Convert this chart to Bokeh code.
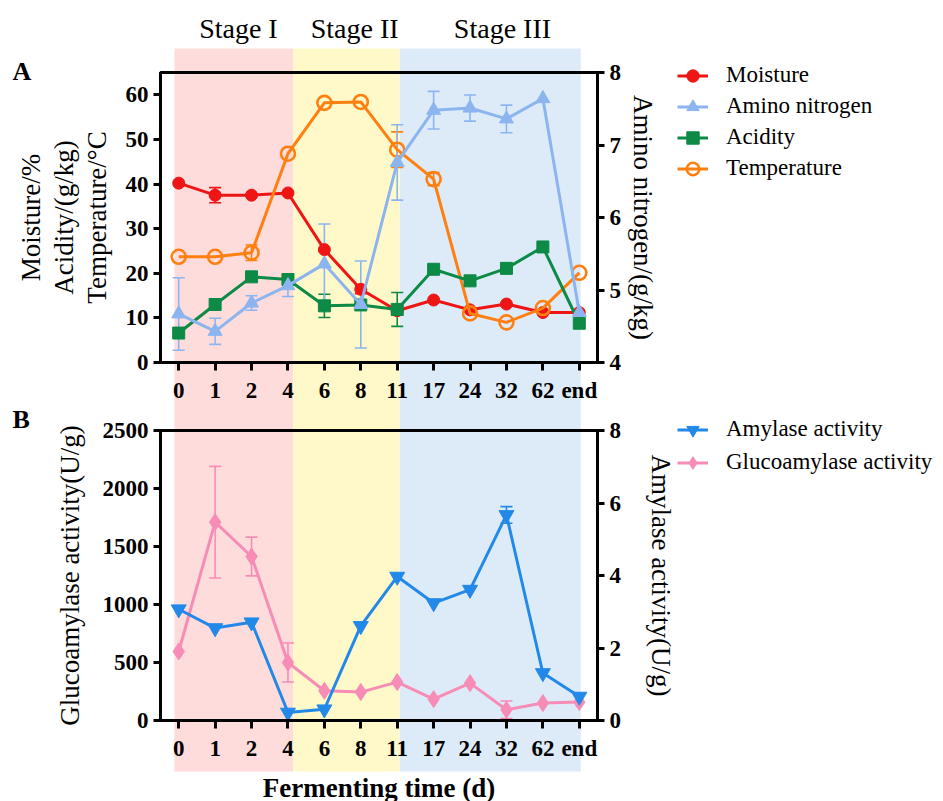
from bokeh.plotting import figure
from bokeh.models import (FactorRange, Range1d, LinearAxis, FixedTicker, Legend, LegendItem,
                          Whisker, ColumnDataSource, TeeHead, GridBox)
from bokeh.layouts import column
from bokeh.core.properties import value
from bokeh.embed import file_html
from bokeh.resources import INLINE

# ---------------- data ----------------
days = ["0", "1", "2", "4", "6", "8", "11", "17", "24", "32", "62", "end"]

moisture = [40.2, 37.5, 37.5, 38.0, 25.3, 16.4, 11.6, 14.0, 11.8, 13.1, 11.2, 11.2]
moisture_err = [0, 1.7, 0, 0, 0, 1.0, 1.0, 0, 0, 0, 0, 0]
temperature = [23.7, 23.7, 24.6, 46.8, 58.2, 58.4, 47.7, 41.1, 11.0, 9.0, 12.2, 20.1]
temperature_err = [0, 0, 1.75, 0, 0, 0, 4.0, 1.5, 0, 0, 0, 0]
acidity = [6.6, 13.0, 19.2, 18.6, 12.7, 12.9, 11.9, 20.9, 18.3, 21.1, 25.9, 8.8]
acidity_err = [0, 0, 0, 0.6, 2.6, 0, 3.8, 0, 0, 0, 0, 0]
amino = [4.67, 4.43, 4.82, 5.06, 5.36, 4.80, 6.76, 7.48, 7.51, 7.36, 7.64, 4.69]
amino_err = [0.50, 0.18, 0.10, 0.15, 0.55, 0.60, 0.52, 0.26, 0.18, 0.19, 0, 0]

glucoamylase = [595, 1710, 1414, 500, 256, 245, 331, 184, 322, 92, 150, 159]
glucoamylase_err = [0, 481, 167, 168, 0, 0, 0, 0, 0, 76, 0, 0]
amylase = [3.07, 2.55, 2.71, 0.22, 0.31, 2.61, 3.97, 3.24, 3.61, 5.67, 1.31, 0.66]
amylase_err = [0, 0, 0, 0, 0, 0, 0, 0, 0, 0.23, 0, 0]

stage_names = ["Stage I", "Stage II", "Stage III"]
stage_edges = [-0.12, 3.14, 6.07, 11.04]      # in category-index units (0 = first day)
stage_label_x = [1.64, 4.83, 8.89]             # in category-index units
stage_colors = ["#FFDCDC", "#FFF9C9", "#DDEBF9"]

panel_letters = ["A", "B"]

left_ticks_A = [0, 10, 20, 30, 40, 50, 60]
right_ticks_A = [4, 5, 6, 7, 8]
left_ticks_B = [0, 500, 1000, 1500, 2000, 2500]
right_ticks_B = [0, 2, 4, 6, 8]

RED = "#EE1515"
LBLUE = "#8CB5F0"
GREEN = "#0C8A46"
ORANGE = "#FF7F10"
BLUE = "#2389E8"
PINK = "#F78DB6"

SERIF = "Liberation Serif"
NAN = float("nan")

# ---------------- geometry (pixels) ----------------
W, H = 940, 801
FRAME_L, FRAME_W, FRAME_H = 160, 437, 290
UNIT = FRAME_W / len(days)                      # px per category
X0 = -0.5 - FRAME_L / UNIT                      # index at canvas left

# ---------------- helpers ----------------
def style_y_axis(ax, ticks, label, standoff, line_height=1.2):
    ax.ticker = FixedTicker(ticks=ticks)
    ax.axis_line_width = 3
    ax.axis_line_color = "black"
    ax.major_tick_line_width = 3
    ax.major_tick_out = 7
    ax.major_tick_in = 0
    ax.minor_tick_line_color = None
    ax.major_label_text_font = SERIF
    ax.major_label_text_font_style = "bold"
    ax.major_label_text_font_size = "23px"
    ax.major_label_text_color = "black"
    ax.major_label_standoff = 5
    ax.axis_label = label
    ax.axis_label_text_font = SERIF
    ax.axis_label_text_font_style = "normal"
    ax.axis_label_text_font_size = "27px"
    ax.axis_label_text_color = "black"
    ax.axis_label_standoff = standoff
    ax.axis_label_text_line_height = line_height


def style_x_axis(ax):
    ax.axis_line_width = 3
    ax.axis_line_color = "black"
    ax.major_tick_line_width = 3
    ax.major_tick_out = 8
    ax.major_tick_in = 0
    ax.minor_tick_line_color = None
    ax.major_label_text_font = SERIF
    ax.major_label_text_font_style = "bold"
    ax.major_label_text_font_size = "23px"
    ax.major_label_text_color = "black"
    ax.major_label_standoff = 7


def add_err(p, vals, errs, color, range_name="default"):
    xs = [d for d, e in zip(days, errs) if e > 0]
    up = [v + e for v, e in zip(vals, errs) if e > 0]
    lo = [v - e for v, e in zip(vals, errs) if e > 0]
    src = ColumnDataSource(dict(x=xs, upper=up, lower=lo))
    w = Whisker(source=src, base="x", upper="upper", lower="lower", dimension="height",
                line_color=color, line_width=1.6, y_range_name=range_name,
                upper_head=TeeHead(size=12, line_color=color, line_width=1.6),
                lower_head=TeeHead(size=12, line_color=color, line_width=1.6))
    w.level = "underlay"
    p.add_layout(w)


def base_fig(yr, top, bottom):
    p = figure(x_range=FactorRange(factors=days), y_range=yr,
               frame_width=FRAME_W, frame_height=FRAME_H,
               min_border_left=FRAME_L, min_border_right=20,
               min_border_top=top, min_border_bottom=bottom,
               output_backend="svg", toolbar_location=None)
    p.background_fill_alpha = 0
    p.border_fill_alpha = 0
    p.xgrid.visible = False
    p.ygrid.visible = False
    p.outline_line_color = "black"
    p.outline_line_width = 3
    p.outline_line_alpha = 1
    return p

# ---------------- background (stage bands, labels, legends) ----------------
bg = figure(width=W, height=H, x_range=Range1d(X0, X0 + W / UNIT), y_range=Range1d(H, 0),
            min_border=0, output_backend="svg", toolbar_location=None)
bg.axis.visible = False
bg.grid.visible = False
bg.outline_line_color = None
bg.title.visible = False

bg.quad(left=stage_edges[:-1], right=stage_edges[1:],
        top=48, bottom=771, fill_color=stage_colors, line_color=None)
bg.text(x=stage_label_x, y=[28] * 3, text=stage_names, text_font=value(SERIF),
        text_font_size="28px", text_align="center", text_baseline="alphabetic",
        text_color="black")
bg.text(x=[X0 + 12 / UNIT] * 2, y=[71, 419], text=panel_letters, text_font=value(SERIF),
        text_font_size="26px", text_font_style="bold", text_align="left",
        text_baseline="alphabetic", text_color="black")

# ---------------- panel A ----------------
pA = base_fig(Range1d(0, 65), 72, 44)
pA.extra_y_ranges = {"amino": Range1d(4, 8)}
style_x_axis(pA.xaxis[0])
style_y_axis(pA.yaxis[0], left_ticks_A, "Moisture/%\nAcidity/(g/kg)\nTemperature/°C", 11,
             line_height=1.1)
axA_r = LinearAxis(y_range_name="amino")
pA.add_layout(axA_r, "right")
style_y_axis(axA_r, right_ticks_A, "Amino nitrogen/(g/kg)", 4)

add_err(pA, moisture, moisture_err, RED)
add_err(pA, temperature, temperature_err, ORANGE)
add_err(pA, acidity, acidity_err, GREEN)
add_err(pA, amino, amino_err, LBLUE, "amino")

pA.line(days, moisture, line_color=RED, line_width=3)
pA.scatter(days, moisture, marker="circle", size=12, fill_color=RED, line_color=RED)
pA.line(days, temperature, line_color=ORANGE, line_width=3)
pA.scatter(days, temperature, marker="circle", size=14, fill_alpha=0,
           line_color=ORANGE, line_width=2.6)
pA.line(days, acidity, line_color=GREEN, line_width=3)
pA.scatter(days, acidity, marker="square", size=12, fill_color=GREEN, line_color=GREEN)
pA.line(days, amino, line_color=LBLUE, line_width=3, y_range_name="amino")
pA.scatter(days, amino, marker="triangle", size=14, fill_color=LBLUE, line_color=LBLUE,
           y_range_name="amino")

# ---------------- panel B ----------------
pB = base_fig(Range1d(0, 2500), 24, 81)
pB.extra_y_ranges = {"amy": Range1d(0, 8)}
style_x_axis(pB.xaxis[0])
pB.xaxis[0].axis_label = "Fermenting time (d)"
pB.xaxis[0].axis_label_text_font = SERIF
pB.xaxis[0].axis_label_text_font_style = "bold"
pB.xaxis[0].axis_label_text_font_size = "27px"
pB.xaxis[0].axis_label_text_color = "black"
pB.xaxis[0].axis_label_standoff = 9
style_y_axis(pB.yaxis[0], left_ticks_B, "Glucoamylase activity(U/g)", 15)
axB_r = LinearAxis(y_range_name="amy")
pB.add_layout(axB_r, "right")
style_y_axis(axB_r, right_ticks_B, "Amylase activity(U/g)", 22)

add_err(pB, glucoamylase, glucoamylase_err, PINK)
add_err(pB, amylase, amylase_err, BLUE, "amy")

pB.line(days, glucoamylase, line_color=PINK, line_width=3)
pB.scatter(days, glucoamylase, marker="diamond", size=17, fill_color=PINK, line_color=PINK)
pB.line(days, amylase, line_color=BLUE, line_width=3, y_range_name="amy")
pB.scatter(days, amylase, marker="inverted_triangle", size=15, fill_color=BLUE,
           line_color=BLUE, y_range_name="amy")

# ---------------- legends (drawn on the background canvas, same styles) ----------------
def proxy(marker, color, size, filled=True):
    src = ColumnDataSource(dict(x=[NAN], y=[NAN]))
    l = bg.line("x", "y", source=src, line_color=color, line_width=3)
    s = bg.scatter("x", "y", source=src, marker=marker, size=size,
                   fill_color=color, fill_alpha=1 if filled else 0,
                   line_color=color, line_width=1 if filled else 2.6)
    return [l, s]

legA = Legend(items=[LegendItem(label="Moisture", renderers=proxy("circle", RED, 12)),
                     LegendItem(label="Amino nitrogen", renderers=proxy("triangle", LBLUE, 14)),
                     LegendItem(label="Acidity", renderers=proxy("square", GREEN, 12)),
                     LegendItem(label="Temperature", renderers=proxy("circle", ORANGE, 13, False))],
              location=(677, H - 59.5 - 4 * 31))
legB = Legend(items=[LegendItem(label="Amylase activity",
                                renderers=proxy("inverted_triangle", BLUE, 15)),
                     LegendItem(label="Glucoamylase activity",
                                renderers=proxy("diamond", PINK, 17))],
              location=(677, H - 412.5 - 2 * 33))
for leg, h in ((legA, 31), (legB, 33)):
    leg.label_text_font = SERIF
    leg.label_text_font_size = "23px"
    leg.label_text_color = "black"
    leg.glyph_width = 31
    leg.label_standoff = 18
    leg.padding = 0
    leg.spacing = 0
    leg.margin = 0
    leg.label_height = h
    leg.glyph_height = h
    leg.border_line_color = None
    leg.background_fill_alpha = 0
    bg.add_layout(leg)

fg = column(pA, pB, spacing=0)
layout = GridBox(children=[(bg, 0, 0), (fg, 0, 0)])
open("out.html", "w").write(file_html(layout, INLINE))
